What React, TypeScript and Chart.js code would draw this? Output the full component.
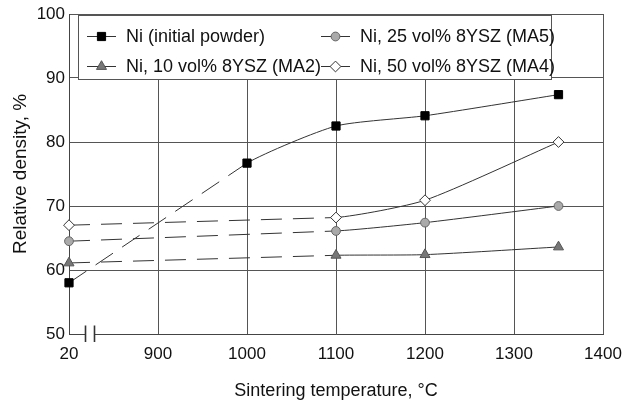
import { useEffect, useRef } from "react";
import { Chart, registerables } from "chart.js";

Chart.register(...registerables);

// ---- data ----
const tickLabels = ["20", "900", "1000", "1100", "1200", "1300", "1400"];
const niTemps = [20, 1000, 1100, 1200, 1350];
const niDensity = [58.0, 76.7, 82.5, 84.1, 87.4];
const compTemps = [20, 1100, 1200, 1350];
const ma2Density = [61.1, 62.3, 62.4, 63.6];
const ma5Density = [64.5, 66.1, 67.4, 70.0];
const ma4Density = [67.0, 68.2, 70.9, 80.0];
const seriesLabels = [
  "Ni (initial powder)",
  "Ni, 10 vol% 8YSZ (MA2)",
  "Ni, 25 vol% 8YSZ (MA5)",
  "Ni, 50 vol% 8YSZ (MA4)",
];

// broken axis: 20 sits at slot 0, 900..1400 at slots 1..6
const pos = (t: number) => (t <= 20 ? 0 : (t - 800) / 100);

const LINE = "#333";
const FONT = "'Liberation Sans', Arial, Helvetica, sans-serif";

type Style = { ps: string; r: number; bg: string; bd: string };
const styles: Style[] = [
  { ps: "rect", r: 5.8, bg: "#000", bd: "#000" },
  { ps: "triangle", r: 5.8, bg: "#777", bd: "#555" },
  { ps: "circle", r: 4.4, bg: "#aaa", bd: "#666" },
  { ps: "rectRot", r: 5.4, bg: "#fff", bd: "#333" },
];

function drawMarker(ctx: CanvasRenderingContext2D, st: Style, x: number, y: number) {
  ctx.save();
  ctx.fillStyle = st.bg;
  ctx.strokeStyle = st.bd;
  ctx.lineWidth = 1;
  ctx.beginPath();
  const r = st.r;
  if (st.ps === "rect") {
    const s = r * Math.SQRT1_2;
    ctx.rect(x - s, y - s, 2 * s, 2 * s);
  } else if (st.ps === "circle") {
    ctx.arc(x, y, r, 0, Math.PI * 2);
  } else if (st.ps === "triangle") {
    ctx.moveTo(x, y - r);
    ctx.lineTo(x + r * 0.866, y + r * 0.5);
    ctx.lineTo(x - r * 0.866, y + r * 0.5);
    ctx.closePath();
  } else {
    ctx.moveTo(x, y - r);
    ctx.lineTo(x + r, y);
    ctx.lineTo(x, y + r);
    ctx.lineTo(x - r, y);
    ctx.closePath();
  }
  ctx.fill();
  ctx.stroke();
  ctx.restore();
}

const legendPlugin = {
  id: "boxLegend",
  afterDraw(chart: any) {
    const { ctx, chartArea } = chart;
    const bx = chartArea.left + 9.5;
    const by = chartArea.top + 1.5;
    const bw = 473;
    const bh = 64;
    ctx.save();
    ctx.fillStyle = "#fff";
    ctx.fillRect(bx, by, bw, bh);
    ctx.strokeStyle = "#555";
    ctx.lineWidth = 1;
    ctx.strokeRect(bx, by, bw, bh);
    const cols = [chartArea.left + 18, chartArea.left + 252];
    const rows = [chartArea.top + 22, chartArea.top + 52];
    // order: [series index, col, row]
    const layout = [
      [0, 0, 0],
      [2, 1, 0],
      [1, 0, 1],
      [3, 1, 1],
    ];
    ctx.font = `18px ${FONT}`;
    ctx.textBaseline = "middle";
    ctx.textAlign = "left";
    for (const [si, c, r] of layout) {
      const x = cols[c];
      const y = rows[r];
      ctx.strokeStyle = LINE;
      ctx.lineWidth = 1;
      ctx.beginPath();
      ctx.moveTo(x, y + 0.5);
      ctx.lineTo(x + 29, y + 0.5);
      ctx.stroke();
      drawMarker(ctx, styles[si], x + 14.5, y + 0.5);
      ctx.fillStyle = "#111";
      ctx.fillText(seriesLabels[si], x + 39, y + 1);
    }
    // axis break symbol on x axis near "20"
    const ay = chartArea.bottom;
    ctx.fillStyle = "#fff";
    ctx.fillRect(chartArea.left + 17, ay - 2, 8, 4);
    ctx.strokeStyle = "#333";
    ctx.lineWidth = 1.6;
    ctx.beginPath();
    ctx.moveTo(chartArea.left + 16.5, ay - 8.5);
    ctx.lineTo(chartArea.left + 16.5, ay + 8);
    ctx.moveTo(chartArea.left + 25.5, ay - 8.5);
    ctx.lineTo(chartArea.left + 25.5, ay + 8);
    ctx.stroke();
    ctx.restore();
  },
};

export default function App() {
  const ref = useRef<HTMLCanvasElement | null>(null);
  useEffect(() => {
    document.body.style.margin = "0";
    if (!ref.current) return;
    Chart.defaults.font.family = FONT;
    const series = [
      { t: niTemps, v: niDensity },
      { t: compTemps, v: ma2Density },
      { t: compTemps, v: ma5Density },
      { t: compTemps, v: ma4Density },
    ];
    const mains = series.map((s, i) => ({
      label: seriesLabels[i],
      data: s.t.map((t, k) => ({ x: pos(t), y: s.v[k] })),
      borderColor: LINE,
      borderWidth: 1,
      tension: 0.2,
      pointStyle: styles[i].ps,
      pointRadius: styles[i].r,
      pointHoverRadius: styles[i].r,
      pointBackgroundColor: styles[i].bg,
      pointBorderColor: styles[i].bd,
      pointBorderWidth: 1,
      clip: false,
      order: 0,
      segment: {
        borderColor: (c: any) => (c.p0DataIndex === 0 ? "rgba(0,0,0,0)" : LINE),
      },
    }));
    const dashes = series.map((s) => ({
      label: "",
      data: s.t.slice(0, 2).map((t, k) => ({ x: pos(t), y: s.v[k] })),
      borderColor: LINE,
      borderWidth: 1,
      borderDash: [21, 11],
      pointRadius: 0,
      tension: 0,
      clip: false,
      order: 1,
    }));
    const chart = new Chart(ref.current, {
      type: "line",
      data: { datasets: [...mains, ...dashes] as any },
      plugins: [legendPlugin],
      options: {
        animation: false,
        responsive: true,
        maintainAspectRatio: false,
        layout: { padding: { top: 14, right: 24, left: 0, bottom: 0 } },
        plugins: { legend: { display: false }, tooltip: { enabled: false } },
        scales: {
          x: {
            type: "linear",
            min: 0,
            max: 6,
            afterFit: (s: any) => {
              s.height = 68;
              s.paddingRight = 0;
              s.paddingLeft = 0;
            },
            ticks: {
              stepSize: 1,
              padding: 10,
              color: "#111",
              font: { size: 17 },
              callback: (v: any) => tickLabels[Math.round(Number(v))] ?? "",
            },
            grid: { color: "#555", lineWidth: 1, drawTicks: false },
            border: { color: "#444", width: 1 },
            title: {
              display: true,
              text: "Sintering temperature, °C",
              color: "#111",
              font: { size: 18 },
              padding: { top: 0, bottom: 0 },
            },
          },
          y: {
            min: 50,
            max: 100,
            afterFit: (s: any) => {
              s.width = 69;
              s.paddingTop = 0;
              s.paddingBottom = 0;
            },
            ticks: {
              stepSize: 10,
              padding: 4,
              color: "#111",
              font: { size: 17 },
            },
            grid: { color: "#555", lineWidth: 1, drawTicks: false },
            border: { color: "#444", width: 1 },
            title: {
              display: true,
              text: "Relative density, %",
              color: "#111",
              font: { size: 19 },
              padding: { top: 9, bottom: 0 },
            },
          },
        },
      },
    });
    return () => chart.destroy();
  }, []);
  return (
    <div style={{ position: "relative", width: 627, height: 402 }}>
      <canvas ref={ref} />
    </div>
  );
}
